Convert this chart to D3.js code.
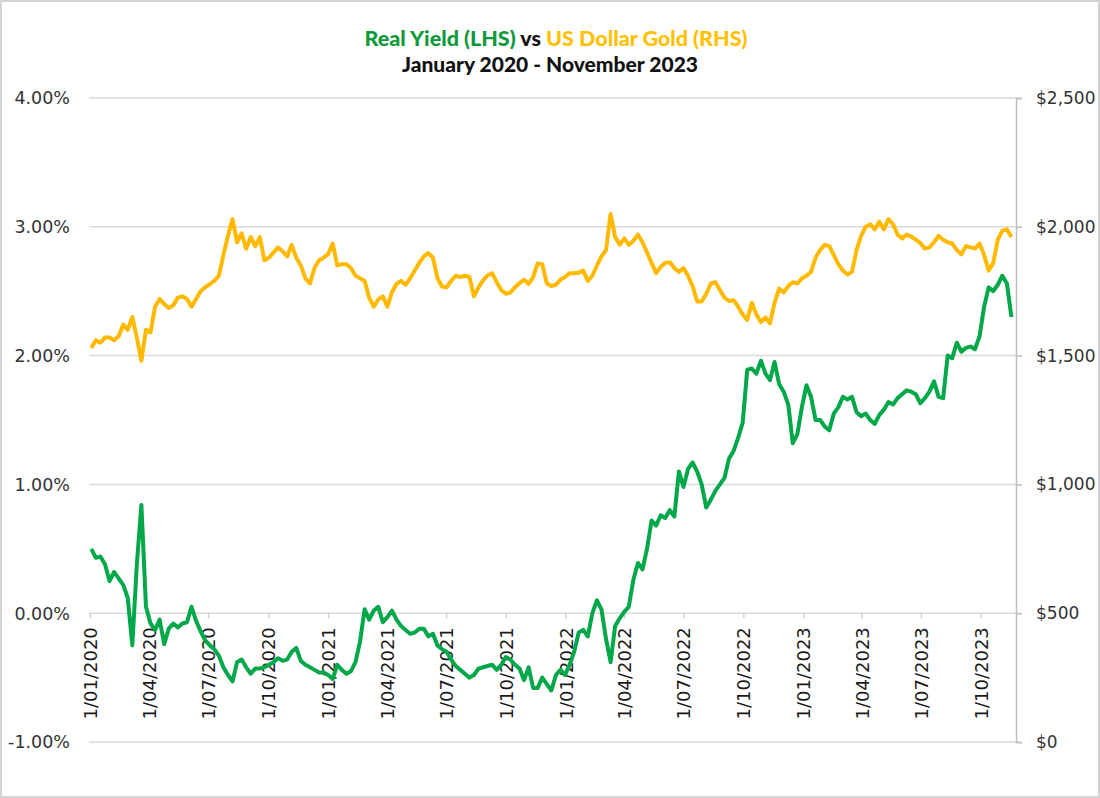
<!DOCTYPE html>
<html>
<head>
<meta charset="utf-8">
<script src="https://cdn.jsdelivr.net/npm/d3@7"></script>
<style>
  html, body { margin: 0; padding: 0; background: #fff; }
  svg { display: block; }
</style>
</head>
<body>
<svg id="chart" width="1100" height="798"></svg>
<script>
// ---- Data (weekly observations, Fridays from 3 Jan 2020) ----
const seriesStart = "2020-01-03";
const seriesEnd = "2023-11-18";

const realYield = [
  0.50, 0.43, 0.44, 0.38, 0.25, 0.32, 0.27, 0.22, 0.12, -0.25,
  0.38, 0.84, 0.05, -0.08, -0.13, -0.05, -0.24, -0.12, -0.08, -0.11,
  -0.08, -0.07, 0.05, -0.06, -0.14, -0.21, -0.25, -0.28, -0.33, -0.42,
  -0.48, -0.53, -0.38, -0.36, -0.42, -0.47, -0.43, -0.43, -0.42, -0.40,
  -0.38, -0.35, -0.37, -0.36, -0.30, -0.27, -0.37, -0.40, -0.42, -0.44,
  -0.46, -0.46, -0.48, -0.51, -0.40, -0.44, -0.47, -0.45, -0.38, -0.22,
  0.03, -0.05, 0.02, 0.05, -0.07, -0.03, 0.02, -0.05, -0.10, -0.13,
  -0.16, -0.15, -0.12, -0.12, -0.18, -0.16, -0.25, -0.28, -0.30, -0.36,
  -0.41, -0.44, -0.47, -0.50, -0.48, -0.43, -0.42, -0.41, -0.40, -0.44,
  -0.40, -0.34, -0.36, -0.40, -0.43, -0.52, -0.42, -0.58, -0.58, -0.50,
  -0.55, -0.60, -0.48, -0.44, -0.48, -0.40, -0.30, -0.15, -0.13, -0.18,
  0.00, 0.10, 0.03, -0.20, -0.38, -0.10, -0.04, 0.01, 0.05, 0.26,
  0.39, 0.34, 0.50, 0.72, 0.68, 0.76, 0.74, 0.80, 0.75, 1.10,
  0.98, 1.12, 1.17, 1.10, 1.00, 0.82, 0.88, 0.95, 1.00, 1.05,
  1.20, 1.26, 1.36, 1.48, 1.89, 1.90, 1.86, 1.96, 1.86, 1.81,
  1.95, 1.78, 1.72, 1.62, 1.32, 1.39, 1.60, 1.77, 1.68, 1.50,
  1.50, 1.45, 1.42, 1.55, 1.60, 1.68, 1.66, 1.68, 1.56, 1.53,
  1.55, 1.50, 1.47, 1.54, 1.58, 1.64, 1.62, 1.67, 1.70, 1.73,
  1.72, 1.70, 1.63, 1.67, 1.72, 1.80, 1.68, 1.67, 2.00, 1.98,
  2.10, 2.03, 2.06, 2.07, 2.05, 2.15, 2.38, 2.53, 2.50, 2.55,
  2.62, 2.56, 2.30
];

const goldPrice = [
  1530, 1560, 1550, 1570, 1570, 1560, 1575, 1620, 1600, 1650,
  1570, 1480, 1600, 1590, 1690, 1720, 1700, 1685, 1695, 1725,
  1730, 1720, 1690, 1720, 1750, 1765, 1777, 1790, 1810, 1890,
  1965, 2030, 1940, 1975, 1915, 1960, 1925, 1960, 1870, 1880,
  1900, 1920, 1905, 1885, 1930, 1880, 1850, 1800, 1780, 1840,
  1870, 1880, 1894, 1935, 1850, 1855, 1855, 1840, 1810, 1800,
  1790, 1725, 1690, 1718, 1730, 1690, 1746, 1778, 1790, 1775,
  1800, 1830, 1860, 1885, 1898, 1880, 1800, 1768, 1765, 1790,
  1810, 1805, 1810, 1805, 1730, 1765, 1792, 1811, 1820, 1785,
  1755, 1740, 1745, 1765, 1781, 1795, 1778, 1805, 1858, 1855,
  1780, 1770, 1775, 1795, 1805, 1820, 1820, 1822, 1830, 1790,
  1810, 1850, 1885, 1910, 2050, 1960, 1930, 1955, 1930, 1945,
  1970, 1940, 1900, 1860, 1820, 1845, 1860, 1862, 1840, 1825,
  1840, 1810, 1770, 1710, 1710, 1740, 1780, 1785, 1755, 1725,
  1712, 1715, 1690, 1660, 1638, 1705, 1660, 1630, 1648, 1625,
  1705, 1760, 1745, 1770, 1785, 1780, 1800, 1810, 1825, 1880,
  1910, 1930, 1925, 1890, 1855, 1830, 1815, 1825, 1910, 1965,
  2000, 2010, 1990, 2020, 1990, 2030, 2010, 1970, 1955, 1970,
  1962, 1950, 1937, 1915, 1920, 1940, 1965, 1950, 1940, 1935,
  1910, 1893, 1925, 1920, 1915, 1935, 1890, 1830, 1860, 1950,
  1985, 1990, 1960
];

const tickDates = [
  "2020-01-01", "2020-04-01", "2020-07-01", "2020-10-01",
  "2021-01-01", "2021-04-01", "2021-07-01", "2021-10-01",
  "2022-01-01", "2022-04-01", "2022-07-01", "2022-10-01",
  "2023-01-01", "2023-04-01", "2023-07-01", "2023-10-01"
];
const leftTicks = [-1, 0, 1, 2, 3, 4];
const rightTicks = [0, 500, 1000, 1500, 2000, 2500];

// ---- Build ----
const parse = d3.timeParse("%Y-%m-%d");
const weeks = d3.timeFriday.range(parse(seriesStart), parse(seriesEnd));
const yieldData = realYield.map((v, i) => ({ date: weeks[i], value: v }));
const goldData = goldPrice.map((v, i) => ({ date: weeks[i], value: v }));

const svg = d3.select("#chart");
const W = 1100, H = 798;
const m = { left: 90, right: 84, top: 98, bottom: 56 };
const plotR = W - m.right, plotB = H - m.bottom;
const FONT = "'DejaVu Sans', Verdana, sans-serif";

svg.append("rect").attr("x", 1).attr("y", 1).attr("width", W - 2).attr("height", H - 2)
  .attr("fill", "#fff").attr("stroke", "#d4d4d4").attr("stroke-width", 2);

const x = d3.scaleTime()
  .domain([parse("2020-01-01"), parse("2023-11-24")])
  .range([m.left, plotR]);
const yL = d3.scaleLinear().domain([-1, 4]).range([plotB, m.top]);
const yR = d3.scaleLinear().domain([0, 2500]).range([plotB, m.top]);

// gridlines
svg.append("g").selectAll("line").data(leftTicks).join("line")
  .attr("x1", m.left - 1).attr("x2", plotR)
  .attr("y1", d => yL(d)).attr("y2", d => yL(d))
  .attr("stroke", "#d9d9d9").attr("stroke-width", 1.5);

// left axis labels
const fmtPct = d3.format(".2f");
svg.append("g").selectAll("text").data(leftTicks).join("text")
  .attr("x", 70).attr("y", d => yL(d)).attr("dy", "0.36em")
  .attr("text-anchor", "end")
  .style("font-family", FONT).style("font-size", "17.5px")
  .attr("fill", "#333")
  .text(d => (d < 0 ? "-" : "") + fmtPct(Math.abs(d)) + "%");

// right axis
const rightAxis = d3.axisRight(yR).tickValues(rightTicks).tickSize(6).tickPadding(14)
  .tickFormat(d => "$" + d3.format(",")(d));
const gR = svg.append("g").attr("transform", `translate(${plotR},0)`).call(rightAxis);
gR.select(".domain").attr("stroke", "#bfbfbf").attr("stroke-width", 1.5);
gR.selectAll(".tick line").attr("stroke", "#bfbfbf").attr("stroke-width", 1.5);
gR.selectAll(".tick text").style("font-family", FONT)
  .style("font-size", "17px").attr("fill", "#333");

// x axis at 0%
const xAxis = d3.axisBottom(x).tickValues(tickDates.map(parse)).tickSize(5)
  .tickFormat(d => `${d.getDate()}/${String(d.getMonth() + 1).padStart(2, "0")}/${d.getFullYear()}`);
const gX = svg.append("g").attr("transform", `translate(0,${yL(0)})`).call(xAxis);
gX.select(".domain").remove();
gX.selectAll(".tick line").attr("stroke", "#d0d0d0").attr("stroke-width", 1.5);
gX.selectAll(".tick text")
  .style("font-family", FONT).style("font-size", "18px").attr("fill", "#1a1a1a")
  .attr("text-anchor", "end")
  .attr("transform", "rotate(-90)")
  .attr("x", -14).attr("y", 0).attr("dy", "0.36em");

// lines
const lineL = d3.line().x(d => x(d.date)).y(d => yL(d.value));
const lineR = d3.line().x(d => x(d.date)).y(d => yR(d.value));
svg.append("path").datum(goldData).attr("d", lineR)
  .attr("fill", "none").attr("stroke", "#FFB900").attr("stroke-width", 4)
  .attr("stroke-linejoin", "round");
svg.append("path").datum(yieldData).attr("d", lineL)
  .attr("fill", "none").attr("stroke", "#00A84A").attr("stroke-width", 4)
  .attr("stroke-linejoin", "round");

// title
const t1 = svg.append("text").attr("x", W / 2 + 6).attr("y", 46).attr("text-anchor", "middle")
  .style("font-family", "Lato, sans-serif").style("font-weight", "900").style("font-size", "21.5px");
t1.append("tspan").attr("fill", "#0E9A3A").text("Real Yield (LHS)");
t1.append("tspan").attr("fill", "#111").text(" vs ");
t1.append("tspan").attr("fill", "#FFC000").text("US Dollar Gold (RHS)");
svg.append("text").attr("x", W / 2).attr("y", 72).attr("text-anchor", "middle")
  .style("font-family", "Lato, sans-serif").style("font-weight", "900").style("font-size", "21px")
  .attr("fill", "#111").text("January 2020 - November 2023");
</script>
</body>
</html>
